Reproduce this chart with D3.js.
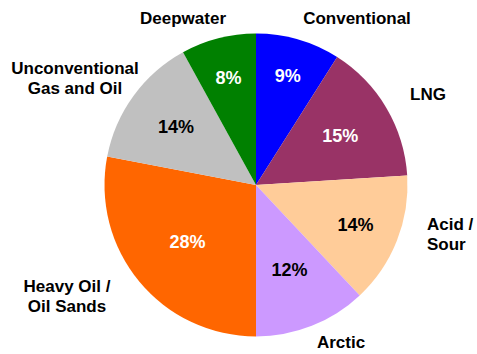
<!DOCTYPE html>
<html>
<head>
<meta charset="utf-8">
<script src="https://cdn.jsdelivr.net/npm/d3@7"></script>
<style>
  html, body { margin: 0; padding: 0; background: #ffffff; }
  svg { display: block; }
  text { font-family: "Liberation Sans", Arial, sans-serif; font-weight: bold; }
</style>
</head>
<body>
<svg id="chart" width="477" height="354"></svg>
<script>
// Share of technology spend by resource type (clockwise from 12 o'clock)
const categories = ["Conventional", "LNG", "Acid / Sour", "Arctic", "Heavy Oil / Oil Sands", "Unconventional Gas and Oil", "Deepwater"];
const shares = [9, 15, 14, 12, 28, 14, 8];
const sliceColors = ["#0000ff", "#993366", "#ffcc99", "#cc99ff", "#ff6600", "#c0c0c0", "#008000"];
const valueTextColors = ["#ffffff", "#ffffff", "#000000", "#000000", "#ffffff", "#000000", "#ffffff"];
const labelLines = [["Conventional"], ["LNG"], ["Acid /", "Sour"], ["Arctic"], ["Heavy Oil /", "Oil Sands"], ["Unconventional", "Gas and Oil"], ["Deepwater"]];

// Layout: pie geometry, radius of each value label, and offsets of category labels from the centre
const cx = 256, cy = 185, R = 151.5;
const valueRadius = [114, 98, 107, 91, 89, 99, 111];
const labelLayout = [
  { dx: 101, dy: -167, anchor: "middle" },
  { dx: 172, dy: -91, anchor: "middle" },
  { dx: 171, dy: 49, anchor: "start" },
  { dx: 85, dy: 157, anchor: "middle" },
  { dx: -189, dy: 111, anchor: "middle" },
  { dx: -181, dy: -107, anchor: "middle" },
  { dx: -73, dy: -167, anchor: "middle" }
];

const data = categories.map((c, i) => ({ name: c, value: shares[i], i }));

const svg = d3.select("#chart");
const g = svg.append("g").attr("transform", `translate(${cx},${cy})`);

const pie = d3.pie().value(d => d.value).sort(null).startAngle(0).endAngle(2 * Math.PI);
const arcs = pie(data);
const arc = d3.arc().innerRadius(0).outerRadius(R);

g.selectAll("path.slice")
  .data(arcs)
  .join("path")
  .attr("class", "slice")
  .attr("d", arc)
  .attr("fill", d => sliceColors[d.data.i]);

// Percentage labels inside each slice
g.selectAll("text.value")
  .data(arcs)
  .join("text")
  .attr("class", "value")
  .attr("transform", d => {
    const r = valueRadius[d.data.i];
    return `translate(${d3.arc().innerRadius(r).outerRadius(r).centroid(d)})`;
  })
  .attr("text-anchor", "middle")
  .attr("dy", "0.36em")
  .attr("font-size", 18)
  .attr("fill", d => valueTextColors[d.data.i])
  .text(d => d.data.value + "%");

// Category labels around the pie
const lineH = 19.5;
const lbl = g.selectAll("text.cat")
  .data(data)
  .join("text")
  .attr("class", "cat")
  .attr("text-anchor", d => labelLayout[d.i].anchor)
  .attr("font-size", 17)
  .attr("fill", "#000000")
  .attr("x", d => labelLayout[d.i].dx)
  .attr("y", d => labelLayout[d.i].dy);

lbl.each(function(d) {
  const lines = labelLines[d.i];
  const t = d3.select(this);
  const start = -(lines.length - 1) / 2 * lineH;
  lines.forEach((ln, k) => {
    t.append("tspan")
      .attr("x", labelLayout[d.i].dx)
      .attr("y", labelLayout[d.i].dy + start + k * lineH)
      .attr("dy", "0.36em")
      .text(ln);
  });
});
</script>
</body>
</html>
